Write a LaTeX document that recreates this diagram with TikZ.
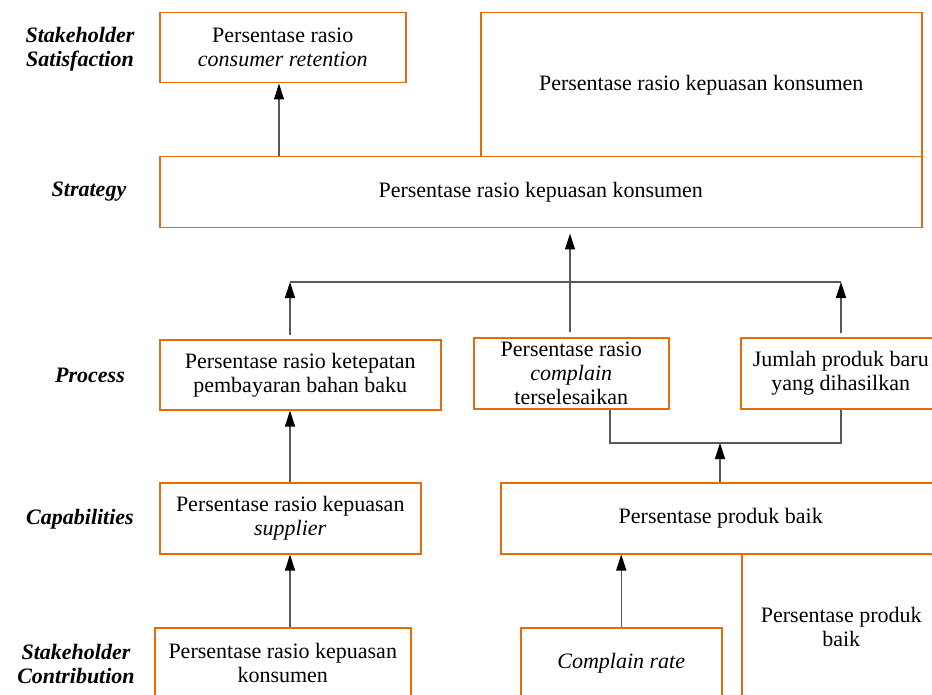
\documentclass[tikz,border=0pt]{standalone}
\usepackage{fontspec}
\setmainfont{Liberation Serif}
\usetikzlibrary{arrows.meta}
\definecolor{boxorange}{RGB}{228,108,10}
\begin{document}
\begin{tikzpicture}[x=1pt,y=-1pt,
 box/.style={draw=boxorange, line width=1.5pt, align=center, anchor=north west, inner sep=0pt, font=\fontsize{22}{24}\selectfont},
 lvl/.style={font=\fontsize{22}{24}\selectfont\bfseries\itshape, align=center},
 conn/.style={draw=black!65, line width=1.2pt},
 arr/.style={conn, -{Triangle[width=10pt,length=16pt,black]}}]
\useasboundingbox (0,0) rectangle (932,695);
\clip (0,0) rectangle (932,695);
% boxes
\node[box, minimum width=246, minimum height=70] (ss) at (159,12) {Persentase rasio\\\textit{consumer retention}};
\node[box, minimum width=441, minimum height=144] (sk) at (480,12) {Persentase rasio kepuasan konsumen};
\node[box, minimum width=762, minimum height=71] (st) at (159,156) {Persentase rasio kepuasan konsumen};
\node[box, minimum width=281, minimum height=70] (p1) at (159,339) {Persentase rasio ketepatan\\pembayaran bahan baku};
\node[box, minimum width=195, minimum height=71] (p2) at (473,337) {Persentase rasio\\\textit{complain}\\terselesaikan};
\node[box, minimum width=200, minimum height=71] (p3) at (740,337) {Jumlah produk baru\\yang dihasilkan};
\node[box, minimum width=261, minimum height=71] (c1) at (159,482) {Persentase rasio kepuasan\\\textit{supplier}};
\node[box, minimum width=440, minimum height=71] (c2) at (500,482) {Persentase produk baik};
\node[box, minimum width=256, minimum height=70] (sc1) at (154,627) {Persentase rasio kepuasan\\konsumen};
\node[box, minimum width=201, minimum height=70] (sc2) at (520,627) {\textit{Complain rate}};
\node[box, minimum width=199, minimum height=146] (sc3) at (741,553) {Persentase produk\\baik};
% level labels
\node[lvl] (l1) at (80,49) {Stakeholder\\Satisfaction};
\node[lvl] (l2) at (89,192) {Strategy};
\node[lvl] (l3) at (90,375) {Process};
\node[lvl] (l4) at (80,519) {Capabilities};
\node[lvl] (l5) at (76,664) {Stakeholder\\Contribution};
% junction coordinates
\coordinate (ja) at (279,0);
\coordinate (jl) at (290,282);
\coordinate (jr) at (841,282);
\coordinate (jm) at (570,282);
\coordinate (b2) at (610,443);
\coordinate (b3) at (841,443);
\coordinate (jb) at (720,443);
% connectors
\draw[arr] (ja |- st.north) -- (ja |- ss.south);
\draw[conn] (jl) -- (jr);
\draw[arr, shorten <=4pt] (jl |- p1.north) -- (jl);
\draw[arr, shorten <=4pt] (jr |- p3.north) -- (jr);
\draw[arr, shorten <=5pt, shorten >=5pt] (jm |- p2.north) -- (jm |- st.south);
\draw[conn] (b2 |- p2.south) -- (b2) -- (b3) -- (b3 |- p3.south);
\draw[arr] (jb |- c2.north) -- (jb);
\draw[arr] (jl |- c1.north) -- (jl |- p1.south);
\draw[arr] (jl |- sc1.north) -- (jl |- c1.south);
\draw[arr] (sc2.north) -- (sc2.north |- c2.south);
\end{tikzpicture}
\end{document}
